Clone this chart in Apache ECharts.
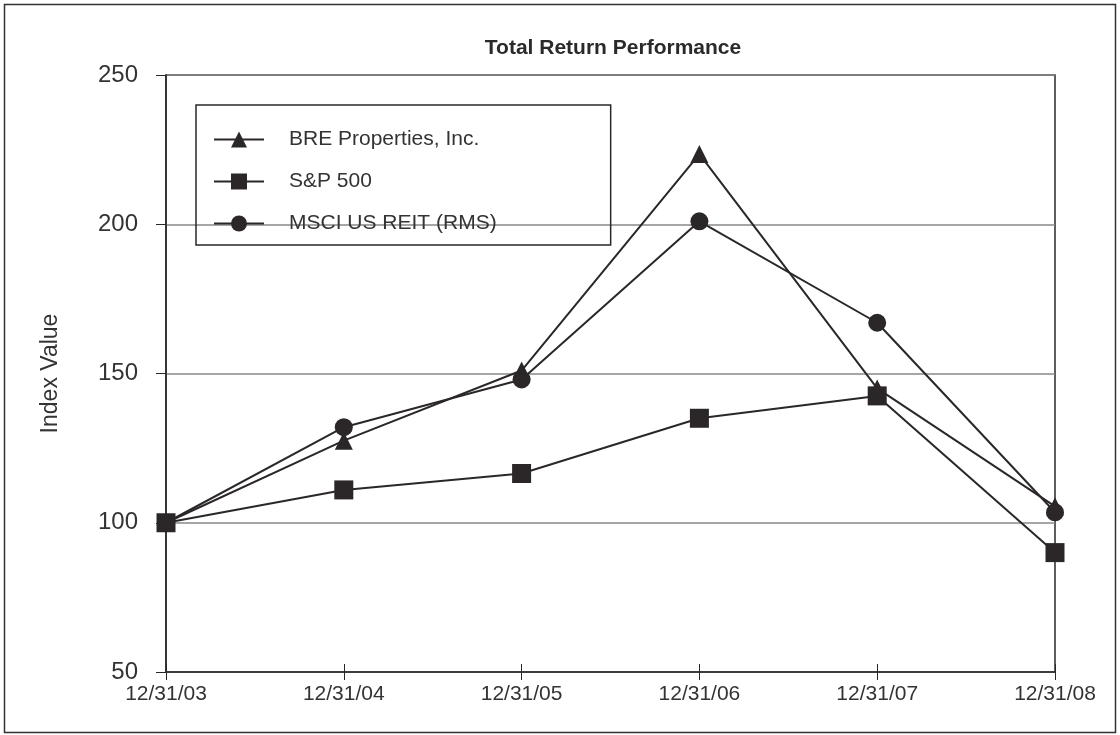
<!DOCTYPE html>
<html>
<head>
<meta charset="utf-8">
<script src="https://cdn.jsdelivr.net/npm/echarts@6/dist/echarts.min.js"></script>
<title>Total Return Performance</title>
<style>
  html, body { margin: 0; padding: 0; background: #fff; }
</style>
</head>
<body>
<div id="main" style="width:1120px;height:735px;"></div>
<script type="text/javascript">
var dates = ['12/31/03', '12/31/04', '12/31/05', '12/31/06', '12/31/07', '12/31/08'];
var breValues = [100, 127.5, 151, 223.5, 145, 105.5];
var spValues = [100, 111, 116.5, 135, 142.5, 90];
var msciValues = [100, 132, 148, 201, 167, 103.5];

var ink = '#2b2729';
var font = 'Liberation Sans, Arial, sans-serif';

function lineSeries(name, data, symbol, size) {
  return {
    name: name,
    type: 'line',
    data: data,
    symbol: symbol,
    symbolSize: size,
    showAllSymbol: true,
    lineStyle: { color: ink, width: 2 },
    itemStyle: { color: ink, borderWidth: 0 },
    emphasis: { disabled: true },
    animation: false
  };
}

var chart = echarts.init(document.getElementById('main'));
chart.setOption({
  backgroundColor: '#fff',
  animation: false,
  title: {
    text: 'Total Return Performance',
    left: 608,
    textAlign: 'center',
    top: 33,
    textStyle: { fontFamily: font, fontSize: 21, fontWeight: 'bold', color: '#2a2a2a' }
  },
  graphic: [{
    type: 'rect',
    shape: { x: 4.5, y: 4.5, width: 1111, height: 728 },
    style: { fill: 'none', stroke: '#333', lineWidth: 1.5 },
    silent: true
  }],
  legend: {
    orient: 'vertical',
    left: 196,
    top: 105,
    padding: [24, 114, 11, 17],
    itemGap: 21,
    itemWidth: 50,
    itemHeight: 20,
    borderColor: ink,
    borderWidth: 1.5,
    textStyle: { fontFamily: font, fontSize: 21, color: '#333', padding: [0, 0, 0, 20] },
    data: ['BRE Properties, Inc.', 'S&P 500', 'MSCI US REIT (RMS)']
  },
  grid: {
    left: 166,
    right: 65,
    top: 75,
    bottom: 63,
    show: true,
    borderColor: ink,
    borderWidth: 1.5
  },
  xAxis: [{
    type: 'category',
    data: dates,
    boundaryGap: false,
    axisLine: { lineStyle: { color: ink, width: 1.5 } },
    axisTick: { show: true, length: 8, lineStyle: { color: ink } },
    axisLabel: { fontFamily: font, fontSize: 21, color: '#333', margin: 12 },
    splitLine: { show: false }
  }, {
    type: 'category',
    data: dates,
    boundaryGap: false,
    position: 'bottom',
    axisLine: { show: false },
    axisTick: { show: true, inside: true, length: 8, lineStyle: { color: ink } },
    axisLabel: { show: false },
    splitLine: { show: false }
  }],
  yAxis: {
    type: 'value',
    min: 50,
    max: 250,
    interval: 50,
    name: 'Index Value',
    nameLocation: 'middle',
    nameGap: 104,
    nameTextStyle: { fontFamily: font, fontSize: 23, color: '#333' },
    axisLine: { show: true, lineStyle: { color: ink, width: 1.5 } },
    axisTick: { show: true, length: 10, lineStyle: { color: ink } },
    axisLabel: { fontFamily: font, fontSize: 24, color: '#333', margin: 28 },
    splitLine: { show: true, lineStyle: { color: '#888', width: 1.5 } }
  },
  series: [
    lineSeries('BRE Properties, Inc.', breValues, 'triangle', 18),
    lineSeries('S&P 500', spValues, 'rect', 19),
    lineSeries('MSCI US REIT (RMS)', msciValues, 'circle', 18)
  ]
});
</script>
</body>
</html>
